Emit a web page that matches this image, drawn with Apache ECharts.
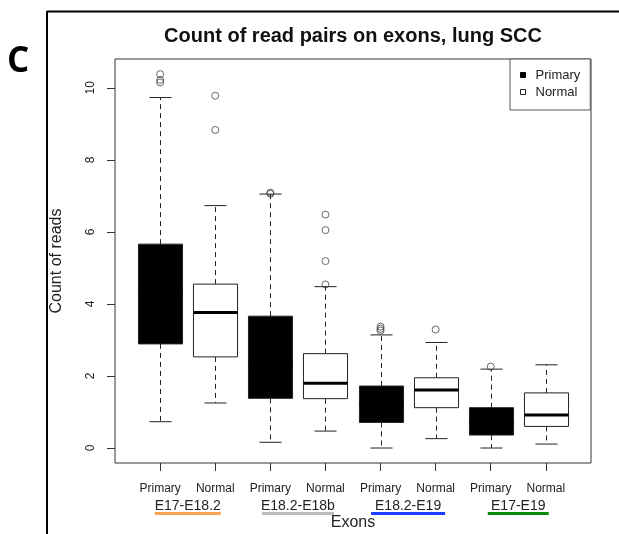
<!DOCTYPE html>
<html>
<head>
<meta charset="utf-8">
<script src="https://cdn.jsdelivr.net/npm/echarts@6/dist/echarts.min.js"></script>
<style>
html,body{margin:0;padding:0;background:#fff;}
#chart{width:619px;height:534px;}
</style>
</head>
<body>
<div id="chart"></div>
<script>
// ---- data ----
const groups = ['E17-E18.2', 'E18.2-E18b', 'E18.2-E19', 'E17-E19'];
const tickLabels = ['Primary', 'Normal', 'Primary', 'Normal', 'Primary', 'Normal', 'Primary', 'Normal'];
const yTicks = [0, 2, 4, 6, 8, 10];
// [min, Q1, median, Q3, max]
const primaryStats = [
  [0.73, 2.89, 4.30, 5.66, 9.73],
  [0.16, 1.38, 2.30, 3.66, 7.05],
  [0.00, 0.71, 1.20, 1.72, 3.14],
  [0.00, 0.36, 0.70, 1.12, 2.19]
];
const normalStats = [
  [1.25, 2.53, 3.76, 4.55, 6.73],
  [0.47, 1.37, 1.80, 2.62, 4.48],
  [0.26, 1.12, 1.61, 1.95, 2.93],
  [0.11, 0.60, 0.92, 1.53, 2.31]
];
const primaryOutliers = [
  [10.38, 10.22, 10.15],
  [7.09, 7.06],
  [3.37, 3.31, 3.26],
  [2.26]
];
const normalOutliers = [
  [9.78, 8.83],
  [6.48, 6.05, 5.19, 4.54],
  [3.29],
  []
];
const underlineColors = ['#F9A455', '#BDBDBD', '#1F3CFF', '#0A8A0A'];

// ---- build ----
const FONT = '"Liberation Sans", Arial, sans-serif';
const boxData = (stats, off) => stats.map((s, i) => [2 * i + off].concat(s));
const outData = (outs, off) => {
  const r = [];
  outs.forEach((arr, i) => arr.forEach(v => r.push([2 * i + off, v])));
  return r;
};

function renderBox(fill, medColor) {
  return function (params, api) {
    const x = api.value(0);
    const mn = api.value(1), q1 = api.value(2), md = api.value(3), q3 = api.value(4), mx = api.value(5);
    const w = api.size([0.8, 0])[0];
    const cw = w / 4;
    const pMin = api.coord([x, mn]), pQ1 = api.coord([x, q1]), pMd = api.coord([x, md]),
          pQ3 = api.coord([x, q3]), pMax = api.coord([x, mx]);
    const cx = Math.round(pMin[0]) + 0.5;
    const ln = { stroke: '#222', lineWidth: 1 };
    return {
      type: 'group',
      children: [
        { type: 'line', shape: { x1: cx, y1: pQ3[1], x2: cx, y2: pMax[1] }, style: Object.assign({ lineDash: [5, 4] }, ln) },
        { type: 'line', shape: { x1: cx, y1: pQ1[1], x2: cx, y2: pMin[1] }, style: Object.assign({ lineDash: [5, 4] }, ln) },
        { type: 'line', shape: { x1: cx - cw, y1: pMax[1], x2: cx + cw, y2: pMax[1] }, style: ln },
        { type: 'line', shape: { x1: cx - cw, y1: pMin[1], x2: cx + cw, y2: pMin[1] }, style: ln },
        { type: 'rect', shape: { x: cx - w / 2, y: pQ3[1], width: w, height: pQ1[1] - pQ3[1] },
          style: { fill: fill, stroke: '#222', lineWidth: 1 } },
        { type: 'line', shape: { x1: cx - w / 2, y1: pMd[1], x2: cx + w / 2, y2: pMd[1] },
          style: { stroke: medColor, lineWidth: 3 } }
      ]
    };
  };
}

const rich = { t: { fontSize: 14, fontFamily: FONT, color: '#222', lineHeight: 11 } };
const ulWidths = [66, 72, 74, 61];
underlineColors.forEach((c, i) => {
  rich['u' + i] = { backgroundColor: c, width: ulWidths[i], height: 3, lineHeight: 3, fontSize: 1 };
});

const chart = echarts.init(document.getElementById('chart'), null, { renderer: 'canvas' });
chart.setOption({
  backgroundColor: '#fff',
  animation: false,
  title: {
    text: 'Count of read pairs on exons, lung SCC',
    left: 348, top: 21, textAlign: 'center',
    textStyle: { fontSize: 20, fontWeight: 'bold', fontFamily: FONT, color: '#111' }
  },
  legend: {
    orient: 'vertical', left: 510, top: 59,
    padding: [9, 10, 11, 10], itemGap: 3,
    itemWidth: 5, itemHeight: 5, icon: 'rect',
    borderColor: '#555', borderWidth: 1, backgroundColor: '#fff',
    textStyle: { fontSize: 13, fontFamily: FONT, color: '#222', lineHeight: 14, padding: [0, 0, 0, 5] },
    data: [
      { name: 'Primary', itemStyle: { color: '#000', borderColor: '#000', borderWidth: 1 } },
      { name: 'Normal', itemStyle: { color: '#fff', borderColor: '#222', borderWidth: 1 } }
    ]
  },
  grid: { left: 115, right: 28, top: 59, bottom: 71, show: true, borderColor: '#333', borderWidth: 1,
    backgroundColor: 'transparent', containLabel: false, outerBoundsMode: 'none' },
  xAxis: [{
    type: 'value', min: 0.18, max: 8.82, position: 'bottom',
    axisLine: { show: false, onZero: false },
    splitLine: { show: false },
    axisTick: { show: true, length: 8, customValues: [1, 2, 3, 4, 5, 6, 7, 8], lineStyle: { color: '#333' } },
    axisLabel: { customValues: [1, 2, 3, 4, 5, 6, 7, 8], margin: 20, fontSize: 12, fontFamily: FONT, color: '#222',
      formatter: v => tickLabels[Math.round(v) - 1] },
    name: 'Exons', nameLocation: 'middle', nameGap: 52,
    nameTextStyle: { fontSize: 16, fontFamily: FONT, color: '#222' }
  }, {
    type: 'value', min: 0.18, max: 8.82, position: 'bottom',
    axisLine: { show: false, onZero: false }, axisTick: { show: false }, splitLine: { show: false },
    axisLabel: { customValues: [1.5, 3.5, 5.5, 7.5], margin: 38,
      formatter: v => { const k = Math.round((v - 1.5) / 2); return '{t|' + groups[k] + '}\n{u' + k + '| }'; },
      rich: rich }
  }],
  yAxis: {
    type: 'value', min: -0.416, max: 10.8,
    axisLine: { show: false, onZero: false },
    splitLine: { show: false },
    axisTick: { show: true, length: 8, customValues: yTicks, lineStyle: { color: '#333' } },
    axisLabel: { customValues: yTicks, rotate: 90, margin: 18, fontSize: 12, fontFamily: FONT, color: '#222' },
    name: 'Count of reads', nameLocation: 'middle', nameGap: 50,
    nameTextStyle: { fontSize: 16, fontFamily: FONT, color: '#222' }
  },
  graphic: [
    { type: 'line', shape: { x1: 47, y1: 11.5, x2: 619, y2: 11.5 }, style: { stroke: '#000', lineWidth: 2 } },
    { type: 'line', shape: { x1: 47, y1: 11, x2: 47, y2: 534 }, style: { stroke: '#000', lineWidth: 2 } },
    { type: 'text', left: 7, top: 45, style: { text: 'C', fontSize: 35, fontWeight: 'bold', fontFamily: '"Open Sans", "Noto Sans", sans-serif', fill: '#000' } }
  ],
  series: [
    { name: 'Primary', type: 'custom', renderItem: renderBox('#000', '#000'), data: boxData(primaryStats, 1),
      itemStyle: { color: '#000' }, encode: { x: 0, y: [1, 2, 3, 4, 5] }, z: 2 },
    { name: 'Normal', type: 'custom', renderItem: renderBox('#fff', '#000'), data: boxData(normalStats, 2),
      itemStyle: { color: '#fff' }, encode: { x: 0, y: [1, 2, 3, 4, 5] }, z: 2 },
    { name: 'PrimaryOut', type: 'scatter', symbol: 'circle', symbolSize: 7, data: outData(primaryOutliers, 1),
      itemStyle: { color: 'rgba(255,255,255,0)', borderColor: '#444', borderWidth: 1 }, z: 3 },
    { name: 'NormalOut', type: 'scatter', symbol: 'circle', symbolSize: 7, data: outData(normalOutliers, 2),
      itemStyle: { color: 'rgba(255,255,255,0)', borderColor: '#444', borderWidth: 1 }, z: 3 }
  ]
});
</script>
</body>
</html>
